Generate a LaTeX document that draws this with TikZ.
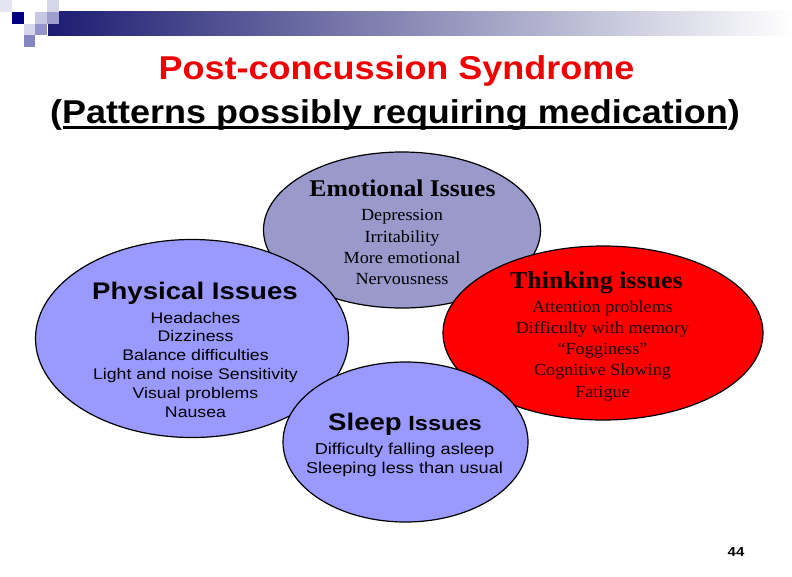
\documentclass[tikz,border=0pt]{standalone}
\usepackage{fontspec}
\setmainfont[FakeStretch=1.07]{Liberation Serif}
\newfontfamily\sanshead[FakeStretch=1.09]{Liberation Sans}
\newfontfamily\sansbody[FakeStretch=1.15]{Liberation Sans}
\usetikzlibrary{positioning, shapes.geometric, calc}
\definecolor{hdrnavy}{HTML}{1C1C72}
\definecolor{sqnavy}{HTML}{000080}
\definecolor{titlered}{HTML}{F00000}
\definecolor{physfill}{HTML}{9999FF}
\definecolor{emofill}{HTML}{9999CC}
\definecolor{thinkfill}{HTML}{FF0000}
\definecolor{thinkhead}{HTML}{100000}
\definecolor{thinktext}{HTML}{1E0000}

\begin{document}
\begin{tikzpicture}[x=1pt, y=-1pt,
    bubble/.style={ellipse, draw=black, line width=1.2pt, inner sep=0pt},
    head/.style={anchor=base, inner sep=0pt},
    items/.style={anchor=north, align=center, inner sep=0pt}]
\useasboundingbox (0,0) rectangle (792,576);

% --- header band ---
\shade[left color=hdrnavy, right color=white] (48,11) rectangle (792,35);
\foreach \c/\r/\col in {0/0/sqnavy!10, 1/1/sqnavy, 3/1/sqnavy!22, 4/0/sqnavy!16,
    4/1/sqnavy!38, 2/2/sqnavy!16, 3/2/sqnavy!42, 2/3/sqnavy!48}
  \fill[\col] (\c*11.75,\r*11.75) rectangle ++(11.75,11.75);

% --- title ---
\node[head, font=\sanshead\bfseries\fontsize{33}{36}\selectfont, text=titlered]
  (title1) at (396.5,79.3) {Post-concussion Syndrome};
\node[head, font=\sanshead\bfseries\fontsize{33}{36}\selectfont]
  (title2) at (395,123.3) {(Patterns possibly requiring medication)};
\draw[line width=2.7pt] ($(title2.base west)+(13,4.3)$) -- ($(title2.base east)+(-12.5,4.3)$);

% --- bubbles ---
\node[bubble, fill=emofill, minimum width=277pt, minimum height=156pt] (emo) at (402,230) {};
\node[bubble, fill=physfill, minimum width=313pt, minimum height=198pt] (phys) at (192,338.5) {};
\node[bubble, fill=thinkfill, minimum width=320pt, minimum height=174pt] (think) at (603,333) {};
\node[bubble, fill=physfill, minimum width=245pt, minimum height=160pt] (sleep) at (405.5,442) {};

% --- emotional ---
\node[head, font=\bfseries\fontsize{24}{26}\selectfont] (emoT) at (402.5,196.7) {Emotional Issues};
\node[items, font=\fontsize{17}{21.3}\selectfont] (emoL) at (402,209.4)
  {Depression\\Irritability\\More emotional\\Nervousness};

% --- physical ---
\node[head, font=\sansbody\bfseries\fontsize{24}{26}\selectfont] (physT) at (195,299.3) {Physical Issues};
\node[items, font=\sansbody\fontsize{15.4}{18.8}\selectfont] (physL) at (195.5,311.7)
  {Headaches\\Dizziness\\Balance difficulties\\Light and noise Sensitivity\\Visual problems\\Nausea};

% --- thinking ---
\node[head, font=\bfseries\fontsize{24.3}{26}\selectfont, text=thinkhead] (thinkT) at (596.5,288.3) {Thinking issues};
\node[items, font=\fontsize{17}{21.25}\selectfont, text=thinktext] (thinkL) at (602.5,300.1)
  {Attention problems\\Difficulty with memory\\“Fogginess”\\Cognitive Slowing\\Fatigue};

% --- sleep ---
\node[head, font=\sansbody\bfseries] (sleepT) at (405,430)
  {\fontsize{24}{26}\selectfont Sleep\fontsize{20.5}{24}\selectfont\ Issues};
\node[items, font=\sansbody\fontsize{15.8}{19.8}\selectfont] (sleepL) at (404.5,442.5)
  {Difficulty falling asleep\\Sleeping less than usual};

\node[head, font=\sansbody\bfseries\fontsize{13}{15}\selectfont] (pgno) at (736,556.5) {44};
\end{tikzpicture}
\end{document}
